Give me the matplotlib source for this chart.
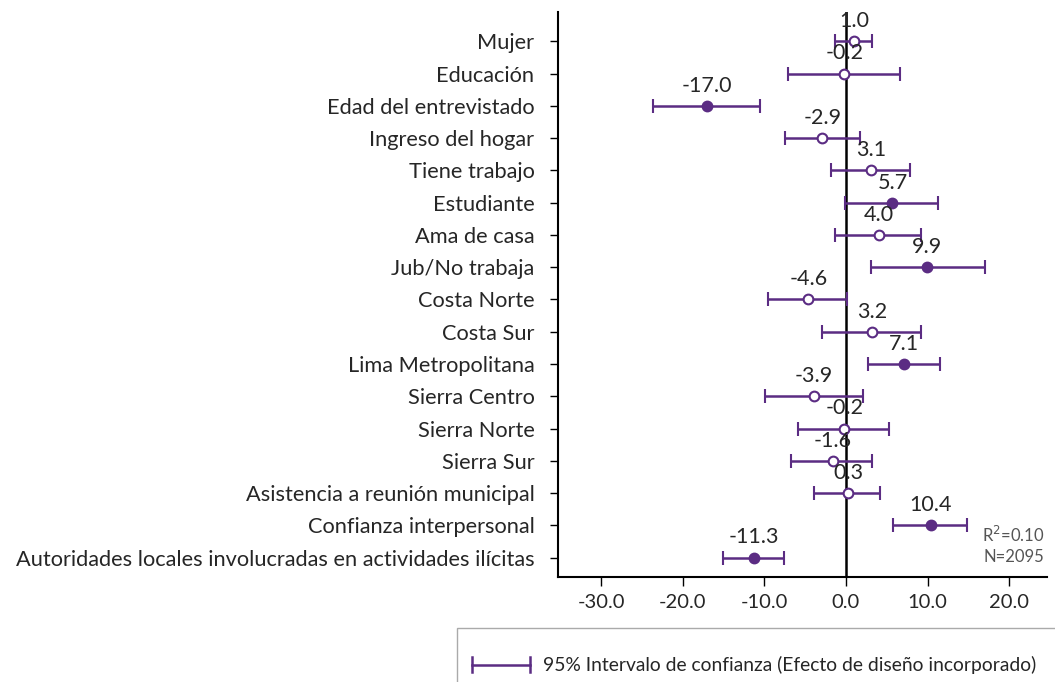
import matplotlib
matplotlib.use("Agg")
import matplotlib.pyplot as plt
from matplotlib.lines import Line2D
from matplotlib.patches import Rectangle

categories = ["Mujer", "Educación", "Edad del entrevistado", "Ingreso del hogar",
              "Tiene trabajo", "Estudiante", "Ama de casa", "Jub/No trabaja",
              "Costa Norte", "Costa Sur", "Lima Metropolitana", "Sierra Centro",
              "Sierra Norte", "Sierra Sur", "Asistencia a reunión municipal",
              "Confianza interpersonal",
              "Autoridades locales involucradas en actividades ilícitas"]
coef = [1.0, -0.2, -17.0, -2.9, 3.1, 5.7, 4.0, 9.9, -4.6, 3.2, 7.1, -3.9,
        -0.2, -1.6, 0.3, 10.4, -11.3]
ci_low = [-1.3, -7.1, -23.7, -7.5, -1.8, -0.1, -1.3, 3.1, -9.5, -2.9, 2.7,
          -9.9, -5.9, -6.7, -3.9, 5.8, -15.1]
ci_high = [3.2, 6.6, -10.5, 1.7, 7.8, 11.3, 9.2, 17.0, 0.1, 9.2, 11.5, 2.1,
           5.3, 3.2, 4.2, 14.9, -7.6]
significant = [False, False, True, False, False, True, False, True, False,
               False, True, False, False, False, False, True, True]
xticks = [-30, -20, -10, 0, 10, 20]

purple = "#5b2c83"
text_col = "#262626"
plt.rcParams["font.family"] = ["Lato", "DejaVu Sans"]

fig = plt.figure(figsize=(10.55, 6.82), dpi=100)
ax = fig.add_axes([0.529, 0.154, 0.463, 0.828])

ypos = list(range(len(categories)))
for i in ypos:
    err = [[coef[i] - ci_low[i]], [ci_high[i] - coef[i]]]
    face = purple if significant[i] else "white"
    ax.errorbar(coef[i], i, xerr=err, fmt="o", color=purple, ecolor=purple,
                elinewidth=1.8, capsize=5, capthick=1.8, markersize=7,
                markerfacecolor=face, markeredgecolor=purple,
                markeredgewidth=1.5, zorder=3)
    ax.annotate(f"{coef[i]:.1f}", (coef[i], i), xytext=(0, 14.5),
                textcoords="offset points", ha="center", va="center",
                fontsize=15.5, color=text_col, zorder=4)

ax.axvline(0, color="black", lw=1.8, zorder=2)

ax.set_xlim(-35.3, 24.6)
ax.set_ylim(len(categories) - 0.4, -0.9)
ax.set_yticks(ypos)
ax.set_yticklabels(categories, fontsize=15.7, color=text_col)
ax.set_xticks(xticks)
ax.set_xticklabels([f"{t:.1f}" for t in xticks], fontsize=14.5, color=text_col)
ax.tick_params(axis="y", length=6, width=1, pad=11)
ax.tick_params(axis="x", length=6.5, width=1, pad=6)
for s in ["top", "right"]:
    ax.spines[s].set_visible(False)
for s in ["left", "bottom"]:
    ax.spines[s].set_linewidth(1.5)
    ax.spines[s].set_color("black")

ax.text(0.995, 0.075, "R$^2$=0.10", transform=ax.transAxes, ha="right",
        va="center", fontsize=12, color="#555555")
ax.text(0.995, 0.036, "N=2095", transform=ax.transAxes, ha="right",
        va="center", fontsize=12, color="#555555")

# legend box
fig.add_artist(Rectangle((0.433, -0.1), 0.6, 0.179, transform=fig.transFigure,
                         fill=False, edgecolor="#aaaaaa", lw=1))
ly = 0.025
fig.add_artist(Line2D([0.447, 0.502], [ly, ly], transform=fig.transFigure,
                      color=purple, lw=1.8))
for lx in [0.447, 0.502]:
    fig.add_artist(Line2D([lx, lx], [ly - 0.011, ly + 0.011],
                          transform=fig.transFigure, color=purple, lw=1.8))
fig.text(0.515, ly, "95% Intervalo de confianza (Efecto de diseño incorporado)",
         ha="left", va="center", fontsize=13.9, color=text_col)

fig.savefig("out.png", dpi=100)
